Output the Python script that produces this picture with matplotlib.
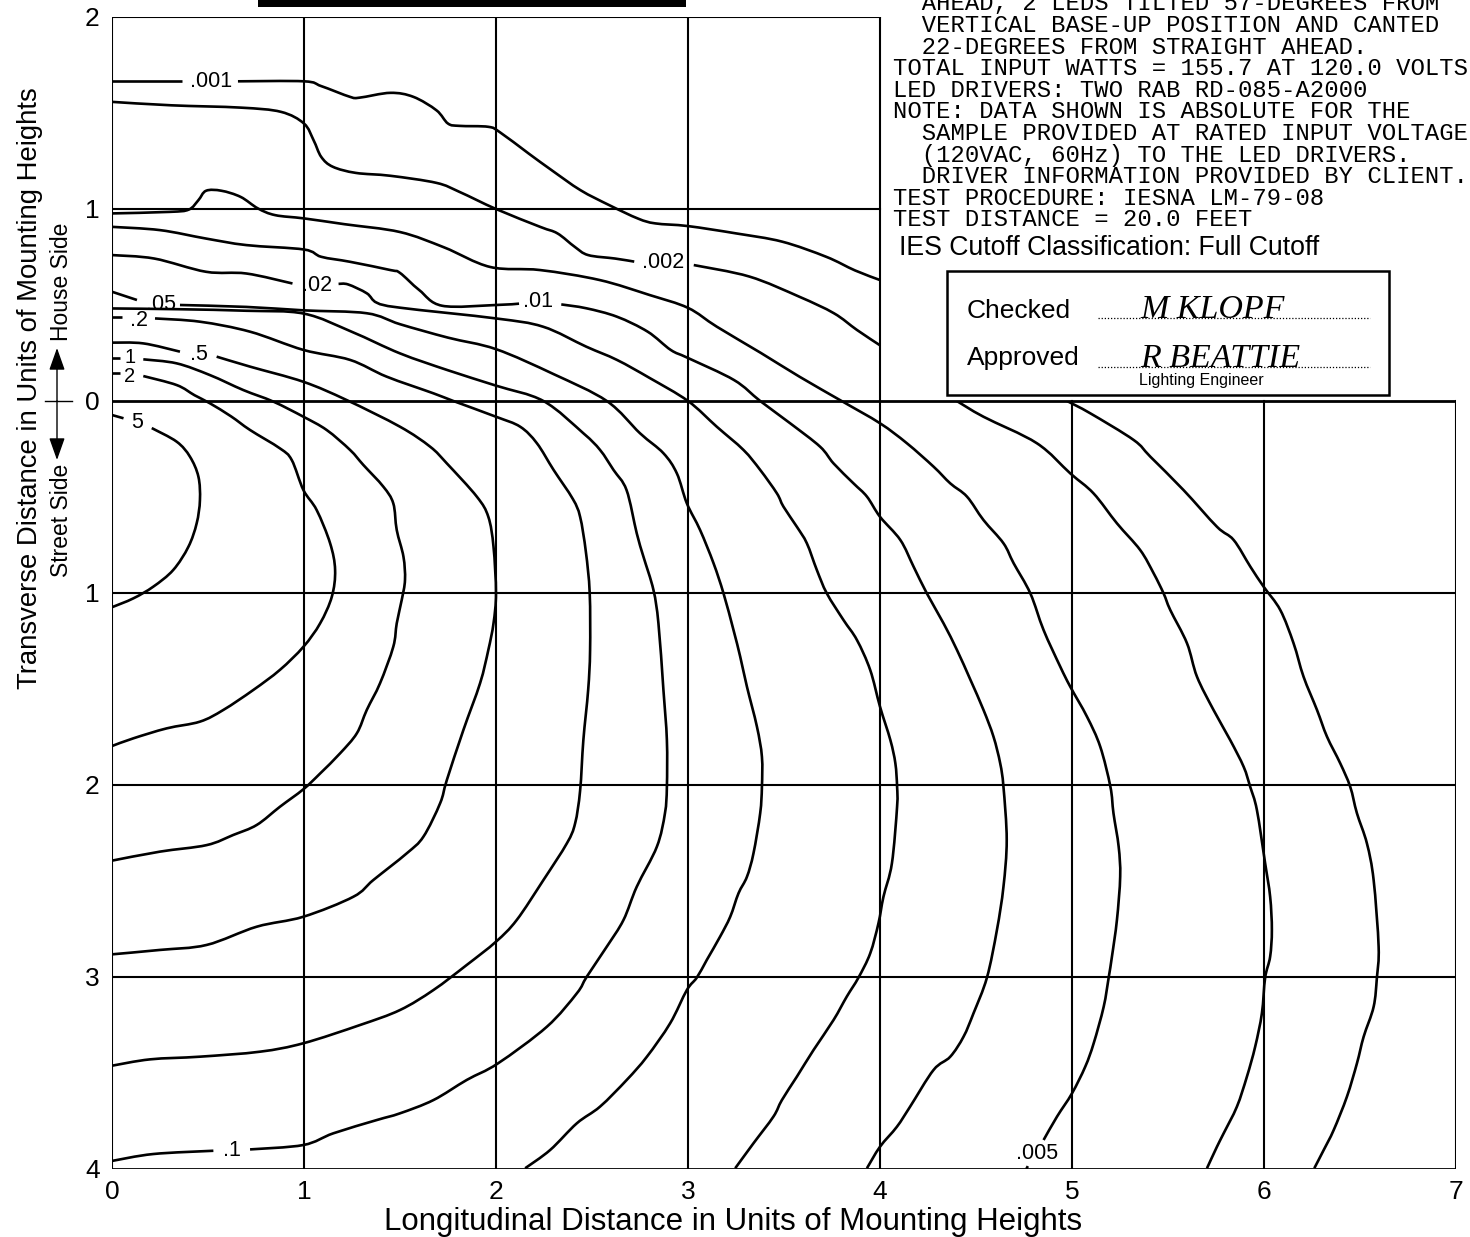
import matplotlib
matplotlib.use("Agg")
import matplotlib.pyplot as plt
from matplotlib.patches import Polygon, Rectangle, FancyArrowPatch, PathPatch
from matplotlib.path import Path
from matplotlib.lines import Line2D

# ---------------- data ----------------
x_ticks = [0, 1, 2, 3, 4, 5, 6, 7]
x_tick_labels = ["0", "1", "2", "3", "4", "5", "6", "7"]
y_ticks = [-4, -3, -2, -1, 0, 1, 2]
y_tick_labels = ["4", "3", "2", "1", "0", "1", "2"]

# isofootcandle lines, each as list of segments (gaps where labels sit)
iso_5 = [
    [(0.0, -0.073), (0.06, -0.09)],
    [(0.207, -0.141), (0.337, -0.212), (0.406, -0.29), (0.45, -0.394), (0.458, -0.516),
     (0.441, -0.637), (0.398, -0.759), (0.319, -0.88), (0.215, -0.967), (0.111, -1.028), (0.0, -1.074)],
]
iso_2 = [
    [(0.0, 0.146), (0.04, 0.146)],
    [(0.163, 0.13), (0.337, 0.083), (0.43, 0.03), (0.51, -0.012), (0.62, -0.08), (0.719, -0.151),
     (0.875, -0.247), (0.936, -0.307), (0.997, -0.464), (1.066, -0.568), (1.136, -0.741), (1.162, -0.88),
     (1.145, -1.019), (1.084, -1.158), (0.997, -1.28), (0.875, -1.40), (0.736, -1.505), (0.58, -1.609),
     (0.458, -1.67), (0.285, -1.705), (0.111, -1.757), (0.0, -1.797)],
]
iso_1 = [
    [(0.0, 0.224), (0.04, 0.224)],
    [(0.163, 0.217), (0.337, 0.196), (0.51, 0.135), (0.684, 0.057), (0.84, -0.003), (0.997, -0.082),
     (1.118, -0.151), (1.24, -0.255), (1.309, -0.333), (1.413, -0.446), (1.465, -0.533), (1.483, -0.672),
     (1.518, -0.811), (1.526, -0.932), (1.509, -1.036), (1.483, -1.158), (1.465, -1.28), (1.396, -1.47),
     (1.327, -1.609), (1.275, -1.731), (1.188, -1.835), (1.084, -1.94), (0.997, -2.022), (0.875, -2.113),
     (0.754, -2.208), (0.632, -2.26), (0.493, -2.313), (0.25, -2.347), (0.0, -2.394)],
]
iso_0p5 = [
    [(0.0, 0.304), (0.163, 0.30), (0.354, 0.257)],
    [(0.545, 0.231), (0.719, 0.179), (0.997, 0.10), (1.222, 0.005), (1.50, -0.134), (1.657, -0.238),
     (1.744, -0.325), (1.90, -0.498), (1.96, -0.603), (1.987, -0.759), (2.0, -1.0), (1.987, -1.158),
     (1.96, -1.297), (1.917, -1.47), (1.83, -1.714), (1.744, -1.974), (1.709, -2.095), (1.622, -2.269),
     (1.535, -2.356), (1.361, -2.495), (1.257, -2.582), (0.997, -2.686), (0.754, -2.738), (0.493, -2.833),
     (0.25, -2.859), (0.0, -2.882)],
]
iso_0p2 = [
    [(0.0, 0.436), (0.05, 0.436)],
    [(0.224, 0.43), (0.458, 0.413), (0.719, 0.361), (0.997, 0.266), (1.24, 0.214), (1.43, 0.127),
     (1.674, 0.04), (1.778, 0.0), (2.0, -0.082), (2.126, -0.134), (2.213, -0.22), (2.30, -0.359),
     (2.40, -0.51), (2.438, -0.603), (2.468, -0.785), (2.488, -1.0), (2.49, -1.3), (2.48, -1.505),
     (2.455, -1.766), (2.438, -2.03), (2.412, -2.2), (2.369, -2.304), (2.247, -2.495), (2.108, -2.703),
     (2.0, -2.816), (1.848, -2.937), (1.674, -3.068), (1.50, -3.172), (1.292, -3.25), (0.997, -3.345),
     (0.771, -3.389), (0.458, -3.415), (0.198, -3.429), (0.0, -3.462)],
]
iso_0p1 = [
    [(0.0, 0.482), (0.35, 0.478), (0.7, 0.47), (1.0, 0.455), (1.25, 0.36), (1.5, 0.248), (1.75, 0.16),
     (2.0, 0.08), (2.247, 0.0), (2.455, -0.168), (2.542, -0.255), (2.612, -0.359), (2.68, -0.464),
     (2.733, -0.689), (2.768, -0.811), (2.82, -0.984), (2.846, -1.158), (2.872, -1.505), (2.89, -1.766),
     (2.89, -2.009), (2.88, -2.147), (2.838, -2.321), (2.733, -2.53), (2.664, -2.703), (2.577, -2.842),
     (2.473, -2.998), (2.421, -3.085), (2.265, -3.259), (2.01, -3.45), (1.848, -3.536), (1.674, -3.641),
     (1.50, -3.71), (1.379, -3.745), (1.153, -3.814), (0.997, -3.875), (0.719, -3.898)],
    [(0.528, -3.905), (0.215, -3.922), (0.0, -3.958)],
]
iso_0p05 = [
    [(0.0, 0.569), (0.13, 0.526)],
    [(0.354, 0.50), (0.7, 0.49), (1.0, 0.472), (1.327, 0.457), (1.5, 0.40), (1.75, 0.33), (2.0, 0.27),
     (2.3, 0.14), (2.577, 0.0), (2.75, -0.168), (2.872, -0.272), (2.942, -0.377), (2.994, -0.533),
     (3.063, -0.672), (3.133, -0.845), (3.185, -1.002), (3.237, -1.193), (3.272, -1.332), (3.307, -1.488),
     (3.359, -1.696), (3.385, -1.853), (3.385, -2.009), (3.376, -2.147), (3.341, -2.356), (3.307, -2.478),
     (3.263, -2.564), (3.22, -2.686), (3.167, -2.79), (3.098, -2.911), (3.046, -3.003), (2.994, -3.068),
     (2.907, -3.241), (2.786, -3.415), (2.681, -3.536), (2.542, -3.675), (2.421, -3.762), (2.282, -3.901),
     (2.152, -3.996)],
]
iso_0p02 = [
    [(0.0, 0.76), (0.22, 0.742), (0.49, 0.673), (0.70, 0.664), (0.94, 0.612)],
    [(1.18, 0.61), (1.23, 0.607), (1.327, 0.561), (1.379, 0.512), (1.5, 0.486), (2.0, 0.43), (2.245, 0.387),
     (2.47, 0.283), (2.63, 0.214), (2.8, 0.12), (3.0, 0.0), (3.15, -0.134), (3.289, -0.255), (3.376, -0.359),
     (3.463, -0.481), (3.497, -0.55), (3.567, -0.655), (3.619, -0.741), (3.671, -0.88), (3.723, -1.002),
     (3.81, -1.141), (3.88, -1.245), (3.949, -1.401), (4.0, -1.592), (4.054, -1.766), (4.08, -1.887),
     (4.089, -2.009), (4.089, -2.113), (4.062, -2.408), (4.018, -2.582), (3.992, -2.72), (3.949, -2.877),
     (3.888, -3.003), (3.827, -3.102), (3.758, -3.224), (3.654, -3.38), (3.567, -3.519), (3.489, -3.641),
     (3.445, -3.727), (3.341, -3.866), (3.246, -3.996)],
]
iso_0p01 = [
    [(0.0, 0.907), (0.25, 0.89), (0.49, 0.846), (0.70, 0.812), (1.0, 0.789), (1.09, 0.751), (1.24, 0.725),
     (1.45, 0.682), (1.5, 0.667), (1.60, 0.578), (1.72, 0.496), (2.0, 0.50), (2.12, 0.507)],
    [(2.34, 0.503), (2.47, 0.483), (2.63, 0.439), (2.79, 0.361), (2.91, 0.266), (3.0, 0.224), (3.24, 0.109),
     (3.376, 0.0), (3.532, -0.116), (3.688, -0.238), (3.758, -0.325), (3.862, -0.429), (3.932, -0.498),
     (4.0, -0.603), (4.106, -0.724), (4.175, -0.863), (4.244, -1.002), (4.331, -1.158), (4.401, -1.297),
     (4.47, -1.45), (4.539, -1.609), (4.591, -1.748), (4.626, -1.887), (4.643, -2.009), (4.66, -2.286),
     (4.643, -2.53), (4.609, -2.755), (4.557, -3.003), (4.487, -3.189), (4.435, -3.311), (4.366, -3.415),
     (4.279, -3.484), (4.157, -3.675), (4.088, -3.78), (4.0, -3.884), (3.932, -3.996)],
]
iso_0p005 = [
    [(0.0, 0.977), (0.30, 0.985), (0.40, 0.997), (0.45, 1.046), (0.49, 1.095), (0.57, 1.095), (0.67, 1.063),
     (0.76, 1.003), (0.85, 0.968), (1.0, 0.951), (1.21, 0.921), (1.5, 0.88), (1.73, 0.80), (1.97, 0.698),
     (2.23, 0.682), (2.54, 0.63), (2.80, 0.552), (3.0, 0.485), (3.15, 0.387), (3.38, 0.25), (3.58, 0.127),
     (3.80, 0.0), (4.0, -0.116), (4.14, -0.22), (4.279, -0.342), (4.366, -0.429), (4.453, -0.498),
     (4.539, -0.62), (4.643, -0.741), (4.696, -0.845), (4.783, -1.002), (4.852, -1.193), (4.939, -1.384),
     (4.991, -1.488), (5.078, -1.644), (5.147, -1.8), (5.2, -2.009), (5.216, -2.147), (5.243, -2.321),
     (5.251, -2.477), (5.234, -2.703), (5.208, -2.894), (5.191, -3.003), (5.165, -3.155), (5.113, -3.345),
     (5.069, -3.467), (5.0, -3.606), (4.922, -3.727), (4.852, -3.849)],
    [(4.77, -3.985), (4.762, -4.0)],
]
iso_0p002 = [
    [(0.0, 1.558), (0.31, 1.54), (0.67, 1.528), (0.88, 1.506), (1.0, 1.445), (1.05, 1.358), (1.09, 1.271),
     (1.15, 1.22), (1.27, 1.188), (1.45, 1.173), (1.69, 1.136), (1.81, 1.089), (2.0, 1.0), (2.23, 0.907),
     (2.32, 0.873), (2.41, 0.803), (2.48, 0.76), (2.62, 0.742), (2.72, 0.726)],
    [(3.03, 0.708), (3.32, 0.648), (3.58, 0.543), (3.76, 0.457), (3.88, 0.37), (4.0, 0.29)],
    [(4.40, 0.0), (4.539, -0.082), (4.817, -0.22), (4.991, -0.377), (5.112, -0.481), (5.234, -0.637),
     (5.355, -0.776), (5.425, -0.897), (5.477, -1.002), (5.512, -1.089), (5.599, -1.262), (5.651, -1.436),
     (5.737, -1.609), (5.824, -1.766), (5.894, -1.905), (5.928, -2.009), (5.963, -2.13), (6.006, -2.408),
     (6.032, -2.582), (6.041, -2.755), (6.032, -2.894), (6.006, -3.003), (5.989, -3.189), (5.954, -3.363),
     (5.911, -3.519), (5.859, -3.675), (5.79, -3.814), (5.755, -3.884), (5.703, -3.996)],
]
iso_0p001 = [
    [(0.0, 1.665), (0.365, 1.665)],
    [(0.656, 1.665), (1.0, 1.665), (1.09, 1.64), (1.24, 1.584), (1.29, 1.58), (1.45, 1.605), (1.57, 1.584),
     (1.69, 1.514), (1.75, 1.445), (1.81, 1.433), (1.96, 1.428), (2.02, 1.40), (2.17, 1.289), (2.29, 1.202),
     (2.44, 1.098), (2.59, 1.02), (2.74, 0.95), (2.83, 0.925), (3.0, 0.911), (3.25, 0.873), (3.49, 0.83),
     (3.72, 0.751), (3.87, 0.68), (4.0, 0.63)],
    [(4.974, 0.0), (5.095, -0.064), (5.321, -0.203), (5.408, -0.29), (5.581, -0.464), (5.755, -0.655),
     (5.842, -0.724), (5.929, -0.863), (5.998, -0.967), (6.085, -1.089), (6.154, -1.262), (6.206, -1.436),
     (6.276, -1.609), (6.328, -1.748), (6.397, -1.887), (6.449, -2.009), (6.484, -2.147), (6.536, -2.304),
     (6.571, -2.495), (6.597, -2.842), (6.588, -3.003), (6.571, -3.155), (6.519, -3.311), (6.484, -3.45),
     (6.432, -3.623), (6.363, -3.797), (6.311, -3.901), (6.262, -3.996)],
]

iso_lines = [iso_5, iso_2, iso_1, iso_0p5, iso_0p2, iso_0p1, iso_0p05,
             iso_0p02, iso_0p01, iso_0p005, iso_0p002, iso_0p001]
iso_labels = ["5", "2", "1", ".5", ".2", ".1", ".05", ".02", ".01", ".005", ".002", ".001"]

notes = [
    "  AHEAD, 2 LEDS TILTED 57-DEGREES FROM",
    "  VERTICAL BASE-UP POSITION AND CANTED",
    "  22-DEGREES FROM STRAIGHT AHEAD.",
    "TOTAL INPUT WATTS = 155.7 AT 120.0 VOLTS",
    "LED DRIVERS: TWO RAB RD-085-A2000",
    "NOTE: DATA SHOWN IS ABSOLUTE FOR THE",
    "  SAMPLE PROVIDED AT RATED INPUT VOLTAGE",
    "  (120VAC, 60Hz) TO THE LED DRIVERS.",
    "  DRIVER INFORMATION PROVIDED BY CLIENT.",
    "TEST PROCEDURE: IESNA LM-79-08",
    "TEST DISTANCE = 20.0 FEET",
]

# ---------------- figure ----------------
W, H, DPI = 1470, 1237, 100
fig = plt.figure(figsize=(W / DPI, H / DPI), dpi=DPI)
fig.patch.set_facecolor("white")
SANS = "Liberation Sans"


def fx(px):
    return px / W


def fy(py):
    return 1 - py / H


def smooth_path(seg):
    """Cubic Bezier path passing through the read points (Catmull-Rom style)."""
    if len(seg) < 3:
        return Path(seg)
    verts = [seg[0]]
    codes = [Path.MOVETO]
    n = len(seg)
    for i in range(n - 1):
        p0 = seg[i - 1] if i > 0 else seg[i]
        p1 = seg[i]
        p2 = seg[i + 1]
        p3 = seg[i + 2] if i + 2 < n else seg[i + 1]
        c1 = (p1[0] + (p2[0] - p0[0]) / 6.0, p1[1] + (p2[1] - p0[1]) / 6.0)
        c2 = (p2[0] - (p3[0] - p1[0]) / 6.0, p2[1] - (p3[1] - p1[1]) / 6.0)
        verts += [c1, c2, p2]
        codes += [Path.CURVE4, Path.CURVE4, Path.CURVE4]
    return Path(verts, codes)


ax = fig.add_axes([fx(112), fy(1169), fx(1456) - fx(112), fy(17) - fy(1169)])
ax.set_xlim(0, 7)
ax.set_ylim(-4, 2)
for s in ax.spines.values():
    s.set_visible(False)
ax.patch.set_alpha(0)

ax.set_xticks(x_ticks)
ax.set_xticklabels(x_tick_labels, fontsize=19, family=SANS)
ax.set_yticks(y_ticks)
ax.set_yticklabels(y_tick_labels, fontsize=19, family=SANS)
ax.tick_params(axis="x", length=0, pad=8)
ax.tick_params(axis="y", length=0, pad=9)

# frame & grid
gk = dict(color="black", lw=1.5, zorder=4, solid_capstyle="projecting")
for xv in [0, 1, 2, 3, 4]:
    ax.plot([xv, xv], [-4, 2], **gk)
for xv in [5, 6, 7]:
    ax.plot([xv, xv], [-4, 0], **gk)
for yv in [2, 1, -1, -2, -3]:
    ax.plot([0, 4] if yv > 0 else [0, 7], [yv, yv], **gk)
for yv in [0, -4]:
    ax.plot([0, 7], [yv, yv], color="black", lw=2.0, zorder=4, solid_capstyle="projecting")

clip = Polygon([(0, -4), (7, -4), (7, 0), (4, 0), (4, 2), (0, 2)], closed=True,
               transform=ax.transData, facecolor="none", edgecolor="none")
ax.add_patch(clip)

for line in iso_lines:
    for seg in line:
        pp = PathPatch(smooth_path(seg), facecolor="none", edgecolor="black", lw=1.9,
                       zorder=3, joinstyle="round", capstyle="butt")
        ax.add_patch(pp)
        pp.set_clip_path(clip)

# contour labels (positions in data units)
label_positions = {
    "5": (0.13, -0.112), "2": (0.094, 0.128), "1": (0.094, 0.226), ".5": (0.453, 0.24),
    ".2": (0.14, 0.42), ".1": (0.625, -3.906), ".05": (0.255, 0.50), ".02": (1.07, 0.60),
    ".01": (2.22, 0.517), ".005": (4.82, -3.92), ".002": (2.87, 0.72), ".001": (0.516, 1.665),
}
for lab in iso_labels:
    x, y = label_positions[lab]
    fs = 14.5 if lab in ("1", "2") else 15.5
    ax.text(x, y, lab, fontsize=fs, family=SANS, ha="center", va="center", zorder=5)

# axis labels
fig.text(fx(733), fy(1222), "Longitudinal Distance in Units of Mounting Heights",
         fontsize=22.5, family=SANS, ha="center", va="center")
fig.text(fx(30), fy(388), "Transverse Distance in Units of Mounting Heights",
         fontsize=19.8, family=SANS, ha="center", va="center", rotation=90)
fig.text(fx(62), fy(282), "House Side", fontsize=16.5, family=SANS,
         ha="center", va="center", rotation=90)
fig.text(fx(62), fy(520), "Street Side", fontsize=16.5, family=SANS,
         ha="center", va="center", rotation=90)

# arrows and zero tick
for y_end in (348, 460):
    arr = FancyArrowPatch((fx(57), fy(401)), (fx(57), fy(y_end)), transform=fig.transFigure,
                          arrowstyle="-|>,head_length=0.62,head_width=0.22", mutation_scale=22,
                          color="black", lw=1.0, shrinkA=0, shrinkB=0)
    fig.patches.append(arr)
fig.lines.append(Line2D([fx(45), fx(72)], [fy(401), fy(401)], transform=fig.transFigure,
                        color="black", lw=1.0))

# black title bar (cropped)
fig.patches.append(Rectangle((fx(258), fy(7)), fx(686) - fx(258), fy(0) - fy(7),
                             transform=fig.transFigure, facecolor="black", edgecolor="none"))

# notes block
for i, line in enumerate(notes):
    fig.text(fx(893), fy(4 + i * 21.6), line, fontsize=17.2, family="Liberation Mono",
             ha="left", va="center")
fig.text(fx(899), fy(248), "IES Cutoff Classification: Full Cutoff", fontsize=19.2,
         family=SANS, ha="left", va="center")

# signature box
fig.patches.append(Rectangle((fx(947), fy(395)), fx(1389) - fx(947), fy(271) - fy(395),
                             transform=fig.transFigure, facecolor="white", edgecolor="black", lw=1.8))
fig.text(fx(967), fy(311), "Checked", fontsize=19, family=SANS, ha="left", va="center")
fig.text(fx(967), fy(358), "Approved", fontsize=19, family=SANS, ha="left", va="center")
for yy in (318, 367):
    fig.lines.append(Line2D([fx(1098), fx(1370)], [fy(yy), fy(yy)], transform=fig.transFigure,
                            color="black", lw=0.9, linestyle=(0, (1, 1.5))))
fig.text(fx(1140), fy(318), "M KLOPF", fontsize=24.5, family="Liberation Serif", style="italic",
         ha="left", va="baseline")
fig.text(fx(1140), fy(367), "R BEATTIE", fontsize=24.5, family="Liberation Serif", style="italic",
         ha="left", va="baseline")
fig.text(fx(1201), fy(381), "Lighting Engineer", fontsize=11.5, family=SANS, ha="center", va="center")

fig.savefig("out.png", dpi=DPI, facecolor="white")
